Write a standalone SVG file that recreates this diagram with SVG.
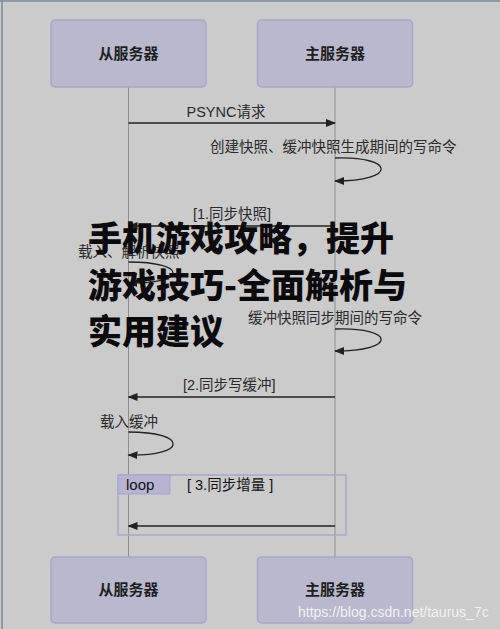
<svg xmlns="http://www.w3.org/2000/svg" width="500" height="629" viewBox="0 0 500 629">
<defs>
<style>
.box{fill:#b9b8cd;stroke:#a9a7c8;stroke-width:1.5}
.life{stroke:#8e8e8e;stroke-width:1;fill:none}
.msg{stroke:#222;stroke-width:1.3;fill:none}
.lbl{font-family:"Liberation Sans","Noto Sans CJK SC",sans-serif;font-size:14.5px;fill:#2a2a2a}
.node{font-family:"Liberation Sans","Noto Sans CJK SC",sans-serif;font-size:15px;font-weight:bold;fill:#1e1e1e;text-anchor:middle}
.title{font-family:"Noto Sans CJK SC",sans-serif;font-size:34px;font-weight:900;fill:#0a0a0a}
</style>
<marker id="ah" markerWidth="10" markerHeight="8" refX="9" refY="4" orient="auto" markerUnits="userSpaceOnUse">
<path d="M0,0 L10,4 L0,8 Z" fill="#222"/>
</marker>
</defs>
<rect width="500" height="629" fill="#cbcbcb"/>
<line x1="2" y1="0" x2="2" y2="629" stroke="#7d8a99" stroke-width="1.5"/>
<line x1="0" y1="1" x2="500" y2="1" stroke="#7d8a99" stroke-width="1.5"/>
<g id="lifelines">
<line class="life" x1="128.5" y1="87" x2="128.5" y2="557"/>
<line class="life" x1="335" y1="87" x2="335" y2="557"/>
</g>
<g id="loop-frame">
<rect x="118" y="475" width="228" height="60" fill="none" stroke="#a9a5cf" stroke-width="1.5"/>
<path d="M118,475 H170 V494 H118 Z" fill="#b7b4d2" stroke="#a9a5cf" stroke-width="1"/>
<text x="126" y="490" class="lbl" style="font-size:15px;fill:#111">loop</text>
<text x="187" y="490" class="lbl" style="fill:#111">[ 3.同步增量 ]</text>
</g>
<g id="connectors">
<line class="msg" x1="128.5" y1="123" x2="335" y2="123" marker-end="url(#ah)"/>
<text x="226" y="117" class="lbl" text-anchor="middle">PSYNC请求</text>
<text x="210" y="152" class="lbl">创建快照、缓冲快照生成期间的写命令</text>
<path class="msg" d="M335,158 C395,156 398,181 335,181" marker-end="url(#ah)"/>
<text x="193" y="219" class="lbl">[1.同步快照]</text>
<line class="msg" x1="335" y1="226" x2="128.5" y2="226" marker-end="url(#ah)"/>
<text x="78" y="257" class="lbl">载入、解析快照</text>
<path class="msg" d="M128.5,262 C188,262 188,284 128.5,283" marker-end="url(#ah)"/>
<text x="248" y="323" class="lbl">缓冲快照同步期间的写命令</text>
<path class="msg" d="M335,329 C395,327 398,351 335,351" marker-end="url(#ah)"/>
<text x="183" y="390" class="lbl">[2.同步写缓冲]</text>
<line class="msg" x1="335" y1="397" x2="128.5" y2="397" marker-end="url(#ah)"/>
<text x="100" y="427" class="lbl">载入缓冲</text>
<path class="msg" d="M128.5,432 C188,432 188,456 128.5,455" marker-end="url(#ah)"/>
<line class="msg" x1="335" y1="526" x2="128.5" y2="526" marker-end="url(#ah)"/>
</g>
<g id="slave-top">
<rect class="box" x="51" y="20" width="155" height="67" rx="4"/>
<text class="node" x="128.5" y="59">从服务器</text>
</g>
<g id="master-top">
<rect class="box" x="257.5" y="20" width="155" height="67" rx="4"/>
<text class="node" x="335" y="59">主服务器</text>
</g>
<g id="slave-bottom">
<rect class="box" x="51" y="557" width="155" height="66" rx="4"/>
<text class="node" x="128.5" y="595">从服务器</text>
</g>
<g id="master-bottom">
<rect class="box" x="257.5" y="557" width="155" height="66" rx="4"/>
<text class="node" x="335" y="595">主服务器</text>
</g>
<g id="overlay-title">
<text class="title" x="88" y="251">手机游戏攻略，提升</text>
<text class="title" x="88" y="298">游戏技巧-全面解析与</text>
<text class="title" x="88" y="344">实用建议</text>
</g>
<text x="298" y="617" style="font-family:'Liberation Sans',sans-serif;font-size:14px;fill:#f2f2f2">https://blog.csdn.net/taurus_7c</text>
</svg>
